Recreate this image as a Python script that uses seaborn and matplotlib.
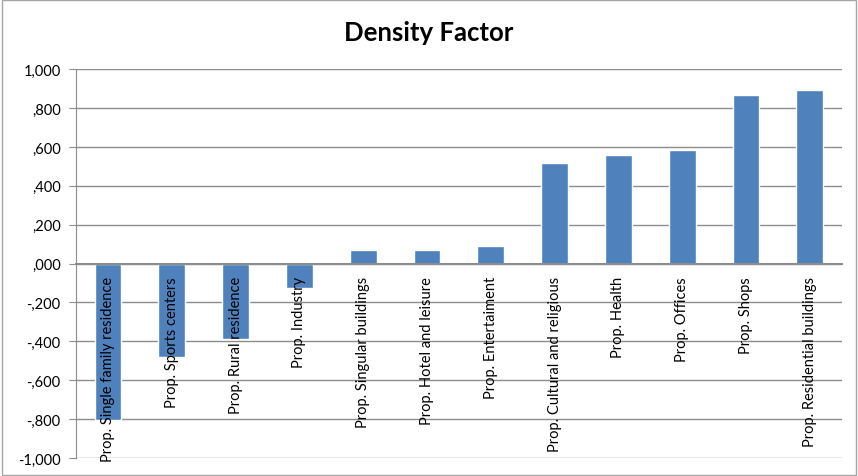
import matplotlib.pyplot as plt
import matplotlib.patches as mpatches
from matplotlib.ticker import FuncFormatter, FixedLocator
import seaborn as sns
import numpy as np
import pandas as pd

categories = [
    "Prop. Single family residence", "Prop. Sports centers", "Prop. Rural residence",
    "Prop. Industry", "Prop. Singular buildings", "Prop. Hotel and leisure",
    "Prop. Entertaiment", "Prop. Cultural and religious", "Prop. Health",
    "Prop. Offices", "Prop. Shops", "Prop. Residential buildings",
]
values = [-0.807, -0.480, -0.387, -0.125, 0.070, 0.070, 0.092, 0.515, 0.558, 0.583, 0.868, 0.893]
yticks = [-1.0, -0.8, -0.6, -0.4, -0.2, 0.0, 0.2, 0.4, 0.6, 0.8, 1.0]

df = pd.DataFrame({"category": categories, "value": values})

sns.set_style("white")
plt.rcParams['font.family'] = ['Lato', 'DejaVu Sans']
plt.rcParams['text.color'] = 'black'
plt.rcParams['xtick.labelcolor'] = 'black'
plt.rcParams['ytick.labelcolor'] = 'black'

fig = plt.figure(figsize=(8.58, 4.77), dpi=100)
ax = fig.add_axes([0.0886, 0.0377, 0.8924, 0.8153])

sns.barplot(data=df, x="category", y="value", color="#4F81BD", saturation=1,
            width=0.42, ax=ax, zorder=2)

ax.set_ylim(-1.0, 1.0)
ax.set_xlim(-0.5, len(categories) - 0.5)
ax.yaxis.set_major_locator(FixedLocator(yticks))


def fmt(v, pos):
    s = f"{v:.3f}"
    if s.startswith("0."):
        s = s[1:]
    elif s.startswith("-0."):
        s = "-" + s[2:]
    return s.replace(".", ",")


ax.yaxis.set_major_formatter(FuncFormatter(fmt))
ax.grid(axis="y", color="#8c8c8c", linewidth=1)
ax.set_axisbelow(True)
# category labels sit on top of the bars
ax.xaxis.set_zorder(3)

for s in ["top", "right"]:
    ax.spines[s].set_visible(False)
ax.spines["left"].set_color("#8c8c8c")
ax.spines["bottom"].set_color("#8c8c8c")
ax.spines["bottom"].set_linewidth(1.5)
ax.spines["bottom"].set_position(("data", 0))
ax.spines["bottom"].set_zorder(3)

ax.tick_params(axis="y", direction="out", length=5, color="#8c8c8c", labelsize=10.5,
               labelcolor="black", pad=6, left=True)
ax.tick_params(axis="x", which="major", length=0, pad=9, labelsize=10.5, labelcolor="black")
ax.set_xticks(np.arange(len(categories)))
ax.set_xticklabels(categories, rotation=90, va="top", ha="center")
ax.set_xticks(np.arange(len(categories) - 1) + 0.5, minor=True)
ax.tick_params(axis="x", which="minor", direction="out", length=4, color="#8c8c8c")
ax.set_xlabel("")
ax.set_ylabel("")

fig.text(0.5, 0.93, "Density Factor", ha="center", va="center",
         fontsize=18.5, fontweight="bold", color="black")

fig.patches.append(mpatches.Rectangle((0.002, 0.002), 0.996, 0.996, transform=fig.transFigure,
                                      fill=False, edgecolor="#a6a6a6", linewidth=1))

fig.savefig("out.png", dpi=100)
